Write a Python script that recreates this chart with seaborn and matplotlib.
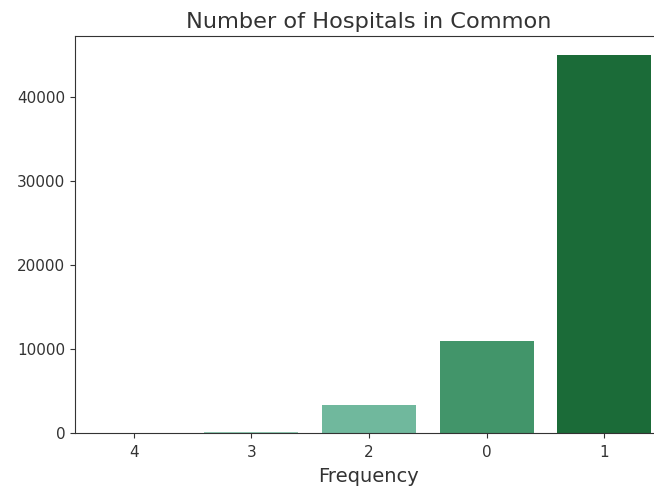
import pandas as pd
import matplotlib
matplotlib.use('Agg')
import matplotlib.pyplot as plt
import seaborn as sns

categories = ['4', '3', '2', '0', '1']
counts = [10, 150, 3300, 10900, 45000]
colors = ['#b4ddce', '#93cbb4', '#70b89d', '#42956a', '#1b6b38']

data = pd.DataFrame({'Frequency': categories, 'count': counts})

fig = plt.figure(figsize=(6.54, 4.86), dpi=100)
# original screenshot is cropped on the right, so the axes runs past the edge
ax = fig.add_axes([75 / 654, 1 - 433 / 486, 588 / 654, 397 / 486])
sns.barplot(data=data, x='Frequency', y='count', hue='Frequency',
            palette=colors, order=categories, legend=False,
            saturation=1, ax=ax)

for s in ax.spines.values():
    s.set_color('#333333')
ax.tick_params(labelsize=11, colors='#333333', labelcolor='#333333')
ax.tick_params(axis='x', pad=5)
ax.set_title('Number of Hospitals in Common', fontsize=16.2, color='#333333')
ax.set_xlabel('Frequency', fontsize=14, color='#333333', labelpad=5)
ax.set_ylabel('')

plt.savefig('out.png', dpi=100)
